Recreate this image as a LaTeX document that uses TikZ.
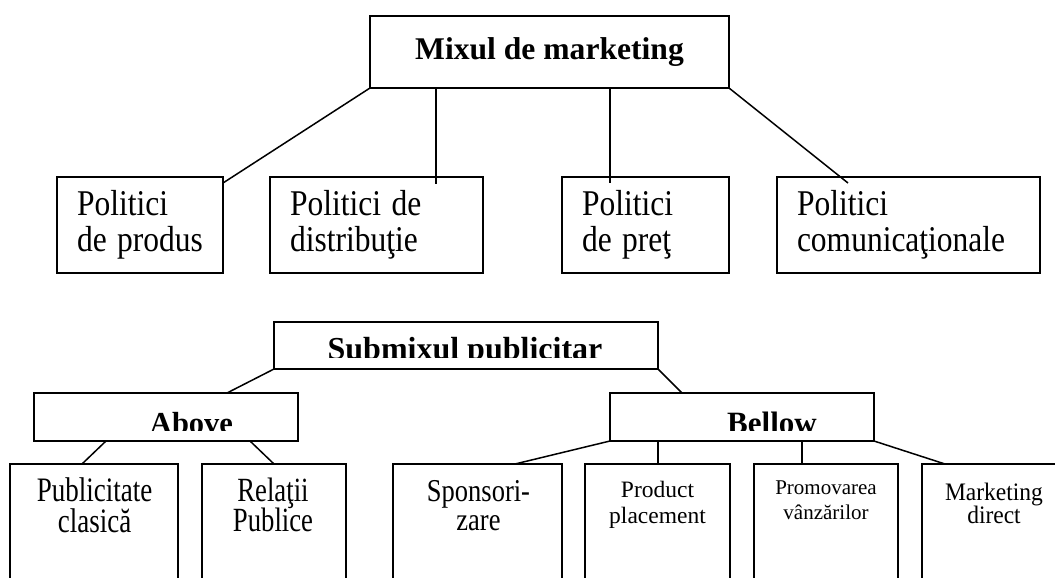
\documentclass[tikz,border=0pt]{standalone}
\usepackage{fontspec}
\setmainfont{Liberation Serif}
\setlength{\lineskiplimit}{-100pt}
\newcommand{\vstr}[2]{\scalebox{1}[#1]{#2}}
\begin{document}
\begin{tikzpicture}[x=1pt,y=-1pt,
  bx/.style={draw, line width=2pt, rectangle, inner sep=0pt, outer sep=0pt},
  toptext/.style={align=left, inner xsep=20pt, inner ysep=0pt,
    font=\fontsize{31.5}{36}\selectfont},
  lowtext/.style={align=center, inner sep=0pt, anchor=north},
  hdr/.style={inner sep=0pt, anchor=base},
  conn/.style={line width=1.8pt},
  diag/.style={line width=1.5pt}]
\useasboundingbox (0,0) rectangle (1055,578);
\clip (0,0) rectangle (1055,578);

% ---------- upper diagram ----------
\node[bx, minimum width=359pt, minimum height=72pt,
      font=\fontsize{31.6}{36}\selectfont\bfseries] (mix) at (549.5,52) {Mixul de marketing};

\node[bx, toptext, minimum width=166pt, minimum height=96pt, text width=126pt] (p1) at (140,225)
  {\vstr{1.15}{Politici}\\\vstr{1.15}{de produs}};
\node[bx, toptext, minimum width=213pt, minimum height=96pt, text width=173pt] (p2) at (376.5,225)
  {\vstr{1.15}{Politici de}\\\vstr{1.15}{distribuţie}};
\node[bx, toptext, minimum width=167pt, minimum height=96pt, text width=127pt] (p3) at (645.5,225)
  {\vstr{1.15}{Politici}\\\vstr{1.15}{de preţ}};
\node[bx, toptext, minimum width=263pt, minimum height=96pt, text width=223pt] (p4) at (908.5,225)
  {\vstr{1.15}{Politici}\\\vstr{1.15}{comunicaţionale}};

\draw[diag] (mix.south west) -- ([yshift=-6pt]p1.north east);
\draw[conn] ([xshift=-113.5pt]mix.south) -- ([xshift=59.5pt,yshift=-7pt]p2.north);
\draw[conn] ([xshift=60.5pt]mix.south) -- ([xshift=-35.5pt,yshift=-6pt]p3.north);
\draw[diag] (mix.south east) -- ([xshift=-60.5pt,yshift=-6pt]p4.north);

% ---------- lower diagram ----------
\node[bx, minimum width=384pt, minimum height=47pt] (sub) at (466,345.5) {};
\node[bx, minimum width=264pt, minimum height=48pt] (above) at (166,417) {};
\node[bx, minimum width=264pt, minimum height=48pt] (bellow) at (742,417) {};

\begin{scope}
  \clip ([xshift=1pt,yshift=-1pt]sub.north west) rectangle ([xshift=-1pt,yshift=12pt]sub.south east);
  \node[hdr, font=\fontsize{32}{36}\selectfont\bfseries] (subt) at (465,359.6) {Submixul publicitar};
\end{scope}
\begin{scope}
  \clip ([xshift=1pt,yshift=-1pt]above.north west) rectangle ([xshift=-1pt,yshift=11pt]above.south east);
  \node[hdr, font=\fontsize{30.5}{34}\selectfont\bfseries] (abovet) at (191.5,433.6) {Above};
\end{scope}
\begin{scope}
  \clip ([xshift=1pt,yshift=-1pt]bellow.north west) rectangle ([xshift=-1pt,yshift=11pt]bellow.south east);
  \node[hdr, font=\fontsize{31}{34}\selectfont\bfseries] (bellowt) at (772,433) {Bellow};
\end{scope}

\node[bx, minimum width=168pt, minimum height=176pt] (pub)  at (94,552) {};
\node[bx, minimum width=144pt, minimum height=176pt] (rel)  at (274,552) {};
\node[bx, minimum width=169pt, minimum height=176pt] (spo)  at (477.5,552) {};
\node[bx, minimum width=145pt, minimum height=176pt] (prod) at (657.5,552) {};
\node[bx, minimum width=144pt, minimum height=176pt] (prom) at (826,552) {};
\node[bx, minimum width=144pt, minimum height=176pt] (mark) at (994,552) {};

\node[lowtext, font=\fontsize{27}{30.5}\selectfont] (pubt) at (94.5,477.6)
  {\vstr{1.27}{Publicitate}\\\vstr{1.27}{clasică}};
\node[lowtext, font=\fontsize{26.7}{30.5}\selectfont] (relt) at (273,477.6)
  {\vstr{1.27}{Relaţii}\\\vstr{1.27}{Publice}};
\node[lowtext, font=\fontsize{26.5}{29}\selectfont] (spot) at (478.5,480.3)
  {\vstr{1.2}{Sponsori-}\\\vstr{1.2}{zare}};
\node[lowtext, font=\fontsize{23.5}{26}\selectfont] (prodt) at (657.5,481)
  {Product\\placement};
\node[lowtext, font=\fontsize{21}{25}\selectfont] (promt) at (826,480.7)
  {Promovarea\\vânzărilor};
\node[lowtext, font=\fontsize{23.5}{23.5}\selectfont] (markt) at (994,482.8)
  {\vstr{1.07}{Marketing}\\\vstr{1.07}{direct}};

\draw[diag] (sub.south west) -- ([xshift=61pt]above.north);
\draw[diag] (sub.south east) -- ([xshift=-60pt]bellow.north);
\draw[diag] ([xshift=-60pt]above.south) -- ([xshift=-12pt]pub.north);
\draw[diag] ([xshift=84pt]above.south) -- (rel.north);
\draw[diag] (bellow.south west) -- ([xshift=37.5pt]spo.north);
\draw[conn] ([xshift=-84pt]bellow.south) -- ([xshift=0.5pt]prod.north);
\draw[conn] ([xshift=60pt]bellow.south) -- ([xshift=-24pt]prom.north);
\draw[diag] (bellow.south east) -- ([xshift=-49pt]mark.north);
\end{tikzpicture}
\end{document}
